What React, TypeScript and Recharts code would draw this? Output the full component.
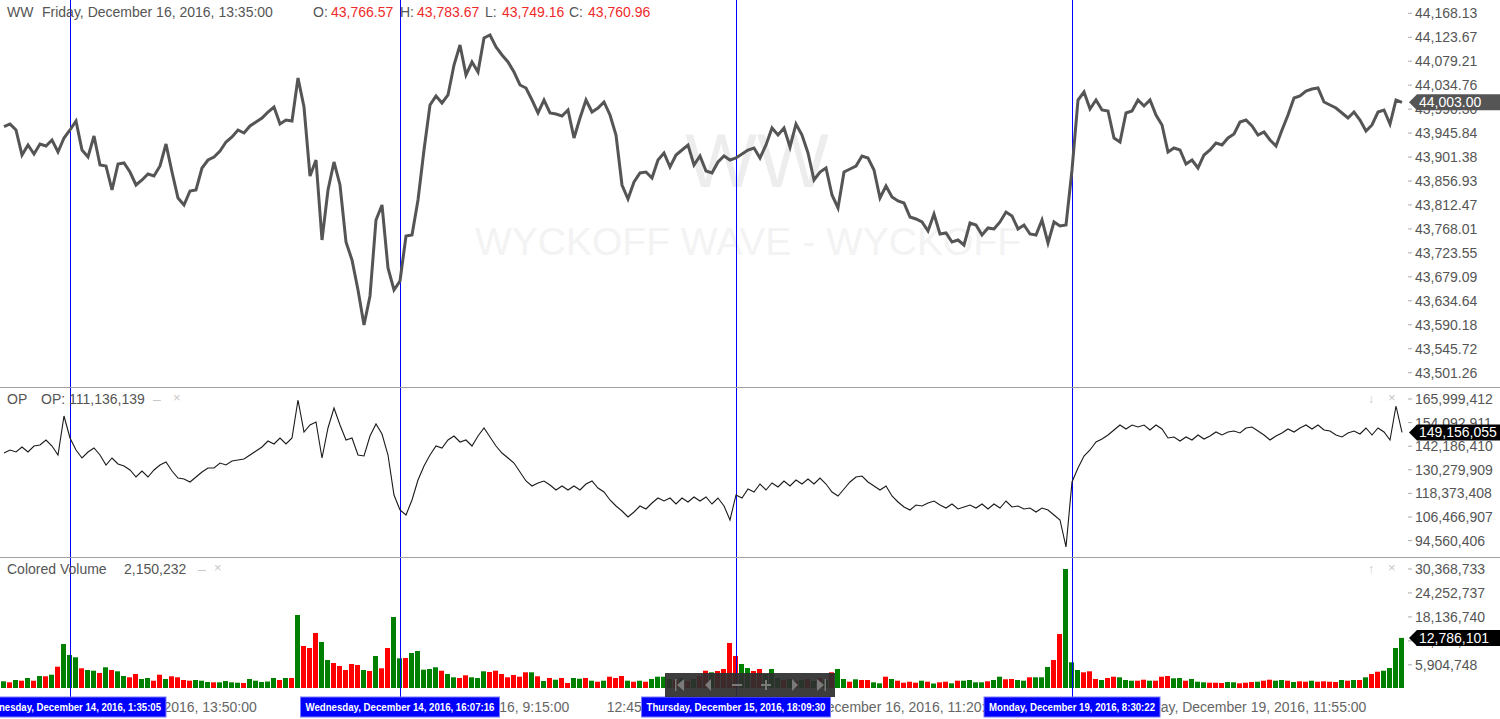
import React from "react";
import { LineChart, Line, BarChart, Bar, Cell, XAxis, YAxis, ReferenceLine } from "recharts";

const FONT = "'Liberation Sans', Arial, sans-serif";

// WW close, one point per bar
const priceClose = [
  43957.71, 43962.72, 43951.58, 43905.2, 43923.75, 43907.05, 43925.61, 43921.9, 43933.03, 43910.76,
  43936.74, 43951.58, 43968.28, 43914.47, 43901.49, 43940.45, 43886.64, 43884.79, 43840.25, 43888.5,
  43890.35, 43873.65, 43849.53, 43858.81, 43869.94, 43866.23, 43884.79, 43925.61, 43873.65, 43825.41,
  43812.42, 43838.4, 43840.25, 43881.08, 43895.92, 43901.49, 43912.62, 43929.32, 43938.6, 43951.58,
  43946.02, 43959.01, 43966.43, 43973.85, 43984.98, 43994.26, 43962.72, 43970.14, 43968.28, 44048.07,
  43994.26, 43866.23, 43895.92, 43747.48, 43840.25, 43892.21, 43849.53, 43743.77, 43710.37, 43654.7,
  43589.76, 43643.57, 43784.59, 43812.42, 43695.53, 43654.7, 43671.4, 43754.9, 43756.76, 43821.7,
  43914.47, 43997.97, 44014.67, 44001.68, 44016.53, 44072.19, 44109.3, 44053.64, 44077.76, 44059.2,
  44122.29, 44127.86, 44105.59, 44090.75, 44077.76, 44059.2, 44035.08, 44029.52, 44007.25, 43983.13,
  44007.25, 43983.13, 43981.27, 43977.56, 43988.69, 43936.74, 43973.85, 44007.25, 43984.98, 43992.41,
  44003.54, 43979.42, 43942.31, 43849.53, 43823.56, 43855.1, 43871.8, 43873.65, 43862.52, 43895.92,
  43908.91, 43882.93, 43905.2, 43914.47, 43923.75, 43886.64, 43903.34, 43875.51, 43871.8, 43892.21,
  43903.34, 43895.92, 43899.63, 43907.05, 43914.47, 43918.19, 43899.63, 43923.75, 43955.3, 43942.31,
  43955.3, 43920.04, 43962.72, 43942.31, 43908.91, 43858.81, 43873.65, 43881.08, 43830.98, 43806.86,
  43873.65, 43879.22, 43884.79, 43903.34, 43899.63, 43877.36, 43825.41, 43847.68, 43827.27, 43819.84,
  43816.13, 43790.16, 43786.45, 43780.88, 43764.18, 43795.72, 43758.61, 43760.47, 43743.77, 43747.48,
  43738.2, 43779.02, 43775.31, 43756.76, 43769.75, 43767.89, 43780.88, 43799.43, 43792.01, 43767.89,
  43775.31, 43758.61, 43756.76, 43784.59, 43741.91, 43780.88, 43773.46, 43775.31, 43877.36, 44007.25,
  44022.09, 43990.55, 44007.25, 43988.69, 43986.84, 43936.74, 43929.32, 43983.13, 43986.84, 44007.25,
  43996.12, 44007.25, 43979.42, 43960.86, 43910.76, 43918.19, 43914.47, 43888.5, 43895.92, 43881.08,
  43905.2, 43914.47, 43927.46, 43923.75, 43936.74, 43944.16, 43966.43, 43970.14, 43959.01, 43942.31,
  43947.87, 43933.03, 43921.9, 43951.58, 43979.42, 44010.96, 44014.67, 44023.95, 44027.66, 44029.52,
  44003.54, 43997.97, 43992.41, 43983.13, 43973.85, 43984.98, 43970.14, 43949.73, 43960.86, 43984.98,
  43988.69, 43962.72, 44007.25, 44003.0,
];

// OP indicator
const opValues = [
  138757000, 140271000, 139262000, 141784000, 139262000, 142289000, 142793000, 145315000, 142289000, 137748000,
  157423000, 146324000, 140271000, 136235000, 139262000, 141280000, 137748000, 132704000, 136235000, 133208000,
  132199000, 130181000, 126650000, 129677000, 126650000, 130181000, 132704000, 134217000, 129677000, 126145000,
  125641000, 124127000, 126650000, 129172000, 131190000, 131190000, 133712000, 132704000, 134721000, 135226000,
  135730000, 137748000, 139766000, 141784000, 144811000, 143298000, 146324000, 143298000, 146324000, 165495000,
  149351000, 152883000, 154396000, 136235000, 151369000, 161459000, 152883000, 145315000, 146324000, 137748000,
  137244000, 147333000, 153387000, 148342000, 137748000, 117569000, 110002000, 107479000, 115046000, 125136000,
  132199000, 137748000, 142289000, 141280000, 145315000, 147333000, 144307000, 145315000, 142289000, 147333000,
  151369000, 146829000, 142289000, 138757000, 136235000, 133712000, 129172000, 124632000, 122109000, 123623000,
  124632000, 122614000, 120091000, 122109000, 120091000, 122109000, 120091000, 123118000, 124632000, 121100000,
  119082000, 115046000, 112020000, 109497000, 106470000, 108993000, 112020000, 110506000, 113533000, 116055000,
  114542000, 116055000, 113029000, 116055000, 114037000, 116560000, 114542000, 116560000, 113029000, 116055000,
  112020000, 104957000, 117569000, 116055000, 120596000, 119082000, 123118000, 120091000, 123623000, 121605000,
  124632000, 122109000, 125136000, 123118000, 125641000, 123118000, 126145000, 123118000, 119082000, 117064000,
  120596000, 124127000, 126650000, 127154000, 124127000, 122109000, 120091000, 122109000, 117064000, 114037000,
  111515000, 110002000, 112524000, 112020000, 113533000, 114542000, 112524000, 111011000, 113029000, 110506000,
  111515000, 112524000, 111011000, 113029000, 110506000, 113029000, 111011000, 114542000, 111515000, 112020000,
  110506000, 111011000, 108993000, 111011000, 110002000, 107479000, 104957000, 91335000, 124127000, 131190000,
  137244000, 140271000, 144307000, 145820000, 147838000, 150360000, 152883000, 150865000, 152883000, 151874000,
  152883000, 150360000, 152883000, 150865000, 146324000, 146829000, 144811000, 146829000, 145315000, 147838000,
  145820000, 147333000, 149351000, 147838000, 149351000, 149856000, 148847000, 151369000, 151874000, 149856000,
  147838000, 145315000, 147333000, 148847000, 150865000, 149351000, 151369000, 152883000, 150865000, 152883000,
  150360000, 149856000, 147838000, 146829000, 148847000, 149856000, 148342000, 151369000, 147838000, 151369000,
  149351000, 145315000, 162468000, 149156055,
];

// colored volume
const volumes = [
  1710000, 1455000, 2042000, 1863000, 2552000, 1863000, 3062000, 2986000, 3394000, 5436000,
  11229000, 8422000, 7835000, 5027000, 4594000, 4415000, 3828000, 5283000, 4594000, 4262000,
  3062000, 2731000, 3573000, 2297000, 2552000, 1863000, 3394000, 2297000, 2986000, 2731000,
  2042000, 1863000, 2042000, 1863000, 1531000, 1455000, 1455000, 1786000, 1455000, 1353000,
  1276000, 2297000, 1863000, 1531000, 1659000, 2552000, 2042000, 2552000, 2552000, 18630000,
  10718000, 10208000, 14036000, 11739000, 7146000, 6380000, 5614000, 4594000, 6125000, 5870000,
  4594000, 4338000, 8166000, 5027000, 10208000, 18119000, 7579000, 7656000, 8932000, 9442000,
  4670000, 4849000, 5283000, 4415000, 3573000, 2731000, 2552000, 3241000, 2731000, 2552000,
  4262000, 4083000, 4415000, 3573000, 2731000, 3318000, 2884000, 4007000, 4007000, 2986000,
  1786000, 2552000, 2118000, 2552000, 1276000, 2552000, 2373000, 2552000, 1863000, 1608000,
  1863000, 2884000, 2552000, 3062000, 1863000, 1608000, 1863000, 1608000, 2297000, 2884000,
  2884000, 2297000, 2042000, 2552000, 1786000, 2297000, 3062000, 4415000, 4007000, 4338000,
  4849000, 11484000, 8166000, 6125000, 5104000, 4338000, 4849000, 3573000, 4849000, 2552000,
  2042000, 2297000, 1786000, 2042000, 2297000, 1786000, 2552000, 2042000, 4007000, 4849000,
  2297000, 1608000, 2220000, 2042000, 2042000, 1455000, 1199000, 2884000, 2297000, 1863000,
  1353000, 1608000, 1353000, 1863000, 1608000, 1148000, 1455000, 1608000, 1199000, 1863000,
  1863000, 2042000, 1455000, 1455000, 1710000, 2042000, 2884000, 2220000, 2297000, 2042000,
  1863000, 2731000, 2731000, 2731000, 5359000, 7146000, 13781000, 30368733, 6559000, 4594000,
  4007000, 4262000, 2297000, 2042000, 2552000, 2884000, 2731000, 2042000, 1863000, 1863000,
  2118000, 1863000, 1863000, 2884000, 3062000, 2475000, 2552000, 1863000, 2297000, 1608000,
  1455000, 1353000, 1353000, 1276000, 1531000, 1455000, 1199000, 1353000, 1531000, 1608000,
  1863000, 2118000, 1863000, 2042000, 1863000, 1531000, 1710000, 1608000, 1863000, 1608000,
  1710000, 1608000, 1531000, 2042000, 1863000, 2042000, 2042000, 2731000, 3573000, 4160000,
  4415000, 5104000, 10208000, 12786101,
];

// 1 = up bar (green), 0 = down bar (red)
const volumeUp = [
  1, 0, 1, 0, 1, 0, 1, 0, 1, 0,
  1, 1, 1, 0, 1, 1, 0, 1, 0, 1,
  1, 0, 0, 1, 1, 0, 0, 1, 0, 0,
  0, 0, 1, 1, 1, 0, 1, 1, 1, 1,
  0, 1, 1, 1, 1, 1, 0, 1, 0, 1,
  0, 0, 0, 1, 1, 0, 0, 0, 0, 0,
  1, 0, 1, 0, 0, 1, 1, 0, 1, 1,
  1, 1, 1, 0, 1, 1, 0, 0, 1, 1,
  1, 0, 0, 0, 0, 0, 0, 0, 1, 0,
  1, 0, 1, 0, 0, 1, 1, 0, 1, 0,
  1, 0, 0, 0, 1, 0, 1, 0, 1, 1,
  1, 1, 0, 1, 0, 1, 0, 0, 1, 0,
  0, 0, 0, 1, 1, 0, 0, 1, 1, 1,
  0, 1, 0, 1, 0, 1, 0, 1, 0, 1,
  1, 0, 1, 0, 0, 1, 1, 0, 1, 0,
  0, 0, 0, 1, 0, 1, 0, 0, 1, 0,
  1, 1, 1, 1, 0, 1, 1, 0, 0, 1,
  1, 0, 1, 1, 1, 0, 0, 1, 1, 1,
  0, 0, 0, 1, 0, 0, 1, 1, 1, 0,
  0, 1, 0, 0, 0, 1, 1, 0, 1, 1,
  1, 0, 0, 0, 1, 1, 0, 0, 0, 1,
  0, 0, 1, 1, 0, 1, 0, 0, 1, 0,
  0, 0, 0, 1, 0, 1, 0, 1, 0, 0,
  1, 1, 1, 1,
];

const priceTicks = [
  44168.13, 44123.67, 44079.21, 44034.76, 43990.3, 43945.84, 43901.38, 43856.93,
  43812.47, 43768.01, 43723.55, 43679.09, 43634.64, 43590.18, 43545.72, 43501.26,
];
const opTicks = [165999412, 154092911, 142186410, 130279909, 118373408, 106466907, 94560406];
const volumeTicks = [30368733, 24252737, 18136740, 12020744, 5904748];

// crosshair / cursor markers
const cursorIdx = [11, 66, 122, 178];
const cursorLabels = [
  "Wednesday, December 14, 2016, 1:35:05",
  "Wednesday, December 14, 2016, 16:07:16",
  "Thursday, December 15, 2016, 18:09:30",
  "Monday, December 19, 2016, 8:30:22",
];
const cursorBoxW = [192, 199, 189, 176];

const timeTickIdx = [20, 74, 105, 147, 207];
const timeTickLabels = [
  "Wednesday, December 14, 2016, 13:50:00",
  "Thursday, December 15, 2016, 9:15:00",
  "12:45:00",
  "Friday, December 16, 2016, 11:20:00",
  "Monday, December 19, 2016, 11:55:00",
];

const rows = priceClose.map((price, i) => ({
  i,
  price,
  op: opValues[i],
  vol: volumes[i],
  up: volumeUp[i] === 1,
}));

const X_DOMAIN: [number, number] = [-0.5, priceClose.length - 0.5];
const W = 1500;
const AXIS_W = 95;
const MARGIN = { top: 0, right: 0, bottom: 0, left: 1 };

const fmtPrice = (v: number) =>
  v.toLocaleString("en-US", { minimumFractionDigits: 2, maximumFractionDigits: 2 });
const fmtInt = (v: number) => Math.round(v).toLocaleString("en-US");

// right axis tick; the last-value tag is passed as the final tick so it draws on top
function makeRightTick(fmt: (v: number) => string, tagValue: number, tagFill: string) {
  return (props: any) => {
    const { x, y, payload, index } = props;
    if (payload.value === tagValue && index > 0) {
      const ax = x - 10;
      return (
        <g>
          <polygon
            points={`${ax + 4},${y} ${ax + 12},${y - 8} ${ax + 95},${y - 8} ${ax + 95},${y + 8} ${ax + 12},${y + 8}`}
            fill={tagFill}
          />
          <text x={ax + 14} y={y} dy="0.36em" fill="#fff" fontSize={14} fontFamily={FONT}>
            {fmt(payload.value)}
          </text>
        </g>
      );
    }
    return (
      <g>
        <line x1={x - 7} x2={x - 3} y1={y} y2={y} stroke="#aaa" />
        <text x={x} y={y} dy="0.35em" fill="#555" fontSize={14} fontFamily={FONT}>
          {fmt(payload.value)}
        </text>
      </g>
    );
  };
}

function TimeTick(props: any) {
  const { x, y, payload } = props;
  const ci = cursorIdx.indexOf(payload.value);
  if (ci >= 0) {
    const w = cursorBoxW[ci];
    return (
      <g>
        <line x1={x} x2={x} y1={y} y2={y + 9} stroke="#0000ff" shapeRendering="crispEdges" />
        <rect x={x - w / 2} y={y + 9} width={w} height={20} fill="#0000ff" stroke="#7a7aff" />
        <text
          x={x}
          y={y + 19}
          dy="0.35em"
          textAnchor="middle"
          fill="#fff"
          fontSize={11}
          fontWeight="bold"
          fontFamily="'Liberation Sans Narrow', 'Arial Narrow', 'Liberation Sans', sans-serif"
          textLength={w - 10}
          lengthAdjust="spacingAndGlyphs"
        >
          {cursorLabels[ci]}
        </text>
      </g>
    );
  }
  const ti = timeTickIdx.indexOf(payload.value);
  return (
    <text x={x} y={y + 19} dy="0.35em" textAnchor="middle" fill="#666" fontSize={14} fontFamily={FONT}>
      {timeTickLabels[ti]}
    </text>
  );
}

const abs = (left: number, top: number, extra: any = {}) => ({
  position: "absolute" as const,
  left,
  top,
  fontFamily: FONT,
  fontSize: 14,
  lineHeight: "16px",
  color: "#555",
  whiteSpace: "nowrap" as const,
  ...extra,
});

const RED = "#f02a2a";

export default function App() {
  const last = rows[rows.length - 1];
  const cursorLines = cursorIdx.map((c) => (
    <ReferenceLine key={c} x={c} stroke="#0000ff" strokeWidth={1} shapeRendering="crispEdges" />
  ));
  return (
    <div style={{ position: "absolute", left: 0, top: 0, width: W, height: 719, background: "#fff", overflow: "hidden" }}>
      {/* watermark */}
      <div style={abs(0, 118, { width: 1514, textAlign: "center", fontSize: 76, lineHeight: "86px", color: "#ededed" })}>WW</div>
      <div style={abs(0, 220, { width: 1496, textAlign: "center", fontSize: 39, lineHeight: "44px", color: "#f3f3f3" })}>
        WYCKOFF WAVE - WYCKOFF
      </div>

      {/* price panel */}
      <div style={{ position: "absolute", left: 0, top: 0 }}>
        <LineChart width={W} height={387} data={rows} margin={MARGIN}>
          <XAxis type="number" dataKey="i" domain={X_DOMAIN} hide />
          <YAxis
            orientation="right"
            width={AXIS_W}
            domain={[43474.7, 44192.8]}
            allowDataOverflow
            ticks={[...priceTicks, last.price]}
            interval={0}
            axisLine={false}
            tickLine={false}
            tickSize={0}
            tickMargin={10}
            tick={makeRightTick(fmtPrice, last.price, "#555")}
          />
          {cursorLines}
          <Line
            type="linear"
            dataKey="price"
            stroke="#555"
            strokeWidth={3}
            dot={false}
            isAnimationActive={false}
          />
        </LineChart>
      </div>

      {/* OP panel */}
      <div style={{ position: "absolute", left: 0, top: 387 }}>
        <LineChart width={W} height={170} data={rows} margin={MARGIN}>
          <XAxis type="number" dataKey="i" domain={X_DOMAIN} hide />
          <YAxis
            orientation="right"
            width={AXIS_W}
            domain={[86286400, 172053600]}
            allowDataOverflow
            ticks={[...opTicks, last.op]}
            interval={0}
            axisLine={false}
            tickLine={false}
            tickSize={0}
            tickMargin={10}
            tick={makeRightTick(fmtInt, last.op, "#000")}
          />
          {cursorLines}
          <Line type="linear" dataKey="op" stroke="#1a1a1a" strokeWidth={1.1} dot={false} isAnimationActive={false} />
        </LineChart>
      </div>

      {/* volume panel */}
      <div style={{ position: "absolute", left: 0, top: 557 }}>
        <BarChart width={W} height={162} data={rows} margin={MARGIN}>
          <XAxis
            type="number"
            dataKey="i"
            domain={X_DOMAIN}
            height={31}
            ticks={[...timeTickIdx, ...cursorIdx]}
            interval={0}
            axisLine={false}
            tickLine={false}
            tickSize={0}
            tickMargin={0}
            tick={TimeTick}
          />
          <YAxis
            orientation="right"
            width={AXIS_W}
            domain={[0, 33431000]}
            allowDataOverflow
            ticks={[...volumeTicks, last.vol]}
            interval={0}
            axisLine={false}
            tickLine={false}
            tickSize={0}
            tickMargin={10}
            tick={makeRightTick(fmtInt, last.vol, "#000")}
          />
          {cursorLines}
          <Bar dataKey="vol" barSize={5} isAnimationActive={false}>
            {rows.map((r) => (
              <Cell key={r.i} fill={r.up ? "#008000" : "#ff0000"} />
            ))}
          </Bar>
        </BarChart>
      </div>

      {/* panel separators */}
      <div style={{ position: "absolute", left: 0, top: 387, width: W, height: 1, background: "#a0a0a0" }} />
      <div style={{ position: "absolute", left: 0, top: 557, width: W, height: 1, background: "#a0a0a0" }} />

      {/* headers */}
      <div style={abs(7, 4)}>WW</div>
      <div style={abs(42, 4)}>Friday, December 16, 2016, 13:35:00</div>
      <div style={abs(313, 4)}>O:</div>
      <div style={abs(331, 4, { color: RED })}>43,766.57</div>
      <div style={abs(400, 4)}>H:</div>
      <div style={abs(417, 4, { color: RED })}>43,783.67</div>
      <div style={abs(485, 4)}>L:</div>
      <div style={abs(502, 4, { color: RED })}>43,749.16</div>
      <div style={abs(569, 4)}>C:</div>
      <div style={abs(588, 4, { color: RED })}>43,760.96</div>

      <div style={abs(7, 391)}>OP</div>
      <div style={abs(41, 391)}>OP: 111,136,139</div>
      <div style={abs(153, 391, { color: "#c8c8c8" })}>–</div>
      <div style={abs(173, 390, { color: "#c8c8c8", fontSize: 13 })}>×</div>
      <div style={abs(1368, 391, { color: "#c8c8c8", fontSize: 12 })}>↓</div>
      <div style={abs(1388, 390, { color: "#c8c8c8", fontSize: 13 })}>×</div>

      <div style={abs(7, 561)}>Colored Volume</div>
      <div style={abs(124, 561)}>2,150,232</div>
      <div style={abs(198, 561, { color: "#c8c8c8" })}>–</div>
      <div style={abs(214, 560, { color: "#c8c8c8", fontSize: 13 })}>×</div>
      <div style={abs(1368, 561, { color: "#c8c8c8", fontSize: 12 })}>↑</div>
      <div style={abs(1388, 560, { color: "#c8c8c8", fontSize: 13 })}>×</div>

      {/* navigation toolbar */}
      <svg style={{ position: "absolute", left: 665, top: 673 }} width={170} height={24}>
        <rect width={170} height={24} fill="#2e2e2e" fillOpacity={0.93} />
        <g fill="#7a7a7a">
          <rect x={10} y={6} width={1.5} height={12} />
          <polygon points="19,6 12,12 19,18" />
          <polygon points="46,6 40,12 46,18" />
          <rect x={67} y={11} width={10} height={2} />
          <rect x={96} y={11} width={10} height={2} />
          <rect x={100} y={7} width={2} height={10} />
          <polygon points="127,6 133,12 127,18" />
          <polygon points="152,6 159,12 152,18" />
          <rect x={159.5} y={6} width={1.5} height={12} />
        </g>
      </svg>
    </div>
  );
}
